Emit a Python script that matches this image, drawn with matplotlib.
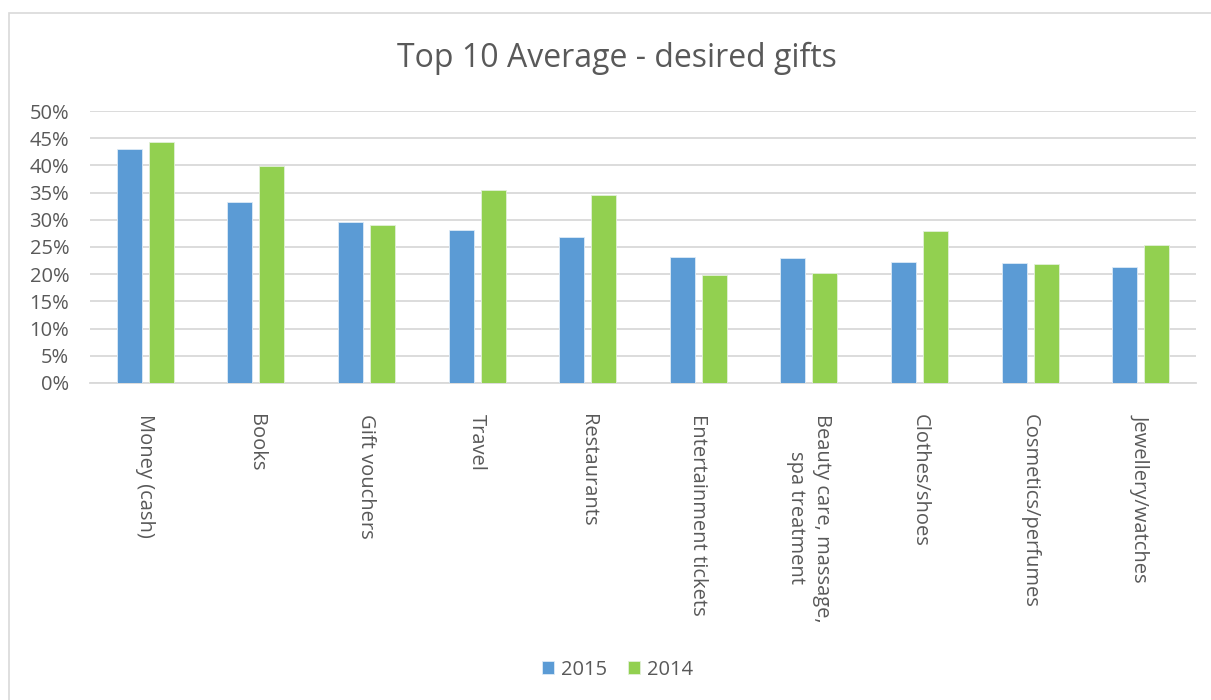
import matplotlib
matplotlib.use('Agg')
import matplotlib.pyplot as plt
import numpy as np
from matplotlib.ticker import PercentFormatter
from matplotlib.patches import Rectangle

plt.rcParams['font.family'] = ['Open Sans', 'DejaVu Sans']

categories = ['Money (cash)', 'Books', 'Gift vouchers', 'Travel', 'Restaurants',
              'Entertainment tickets', 'Beauty care, massage,\nspa treatment',
              'Clothes/shoes', 'Cosmetics/perfumes', 'Jewellery/watches']
vals_2015 = [43.0, 33.2, 29.6, 28.2, 26.9, 23.1, 22.9, 22.3, 22.0, 21.3]
vals_2014 = [44.3, 39.9, 29.0, 35.5, 34.5, 19.8, 20.3, 28.0, 21.9, 25.4]
series_names = ['2015', '2014']

text_col = '#595959'
grid_col = '#D9D9D9'

fig = plt.figure(figsize=(12.11, 7), dpi=100)
ax = fig.add_axes([0.0743, 0.4529, 0.9133, 0.3885])

x = np.arange(len(categories))
w = 0.226
off = 0.145
ax.bar(x - off, vals_2015, w, color='#5B9BD5', edgecolor='#DDEBF7', linewidth=0.6,
       label=series_names[0], zorder=3)
ax.bar(x + off, vals_2014, w, color='#92D050', edgecolor='#E2F0D9', linewidth=0.6,
       label=series_names[1], zorder=3)

ax.set_xlim(-0.5, len(categories) - 0.5)
ax.set_ylim(0, 50)
ax.set_yticks(np.arange(0, 51, 5))
ax.yaxis.set_major_formatter(PercentFormatter(decimals=0))
ax.yaxis.grid(True, color=grid_col, linewidth=1.3, zorder=0)
for s in ['top', 'right', 'left']:
    ax.spines[s].set_visible(False)
ax.spines['bottom'].set_color(grid_col)
ax.spines['bottom'].set_linewidth(1.3)

ax.set_xticks(x)
ax.set_xticklabels(categories, rotation=270, ha='center', va='top',
                   multialignment='center', linespacing=1.4,
                   fontsize=14.5, color=text_col)
ax.tick_params(axis='x', length=0, pad=22)
ax.tick_params(axis='y', length=0, pad=15, labelsize=14.5, labelcolor=text_col)

fig.text(0.5095, 0.917, 'Top 10 Average - desired gifts', ha='center', va='center',
         fontsize=23, color=text_col)

leg = fig.legend(loc='center', bbox_to_anchor=(0.51, 0.043), ncol=2, frameon=False,
                 fontsize=14.5, handlelength=0.6, handleheight=0.6, handletextpad=0.35,
                 columnspacing=1.0)
for t in leg.get_texts():
    t.set_color(text_col)

# outer chart border
fig.patches.append(Rectangle((9 / 1211, -0.1), 1.2, (700 - 13) / 700 + 0.1,
                             transform=fig.transFigure, fill=False,
                             edgecolor=grid_col, linewidth=1.2))

fig.savefig('out.png', dpi=100)
